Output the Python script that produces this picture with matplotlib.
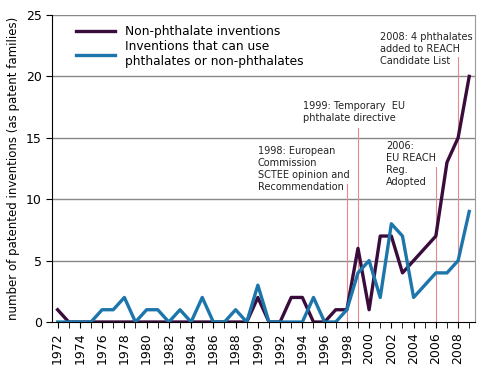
import matplotlib.pyplot as plt
import numpy as np

years = np.arange(1972, 2010)
non_phth = [1, 0, 0, 0, 0, 0, 0, 0, 0, 0, 0, 0, 0, 0, 0, 0, 0, 0, 2, 0,
            0, 2, 2, 0, 0, 1, 1, 6, 1, 7, 7, 4, 5, 6, 7, 13, 15, 20]
either = [0, 0, 0, 0, 1, 1, 2, 0, 1, 1, 0, 1, 0, 2, 0, 0, 1, 0, 3, 0,
          0, 0, 0, 2, 0, 0, 1, 4, 5, 2, 8, 7, 2, 3, 4, 4, 5, 9]

# events: year of line, top of line, text position, text
ev_years = [1998, 1999, 2006, 2008]
ev_tops = [11.2, 15.8, 12.6, 21.6]
ev_text_x = [1990.0, 1994.1, 2001.5, 2001.0]
ev_text_y = [14.3, 18.0, 14.7, 23.6]
ev_texts = ["1998: European\nCommission\nSCTEE opinion and\nRecommendation",
            "1999: Temporary  EU\nphthalate directive",
            "2006:\nEU REACH\nReg.\nAdopted",
            "2008: 4 phthalates\nadded to REACH\nCandidate List"]

purple = '#3a0c3c'
blue = '#1d76ab'

fig = plt.figure(figsize=(4.91, 3.74), dpi=100)
ax = fig.add_axes([0.106, 0.139, 0.861, 0.821])

for y in [5, 10, 15, 20, 25]:
    ax.axhline(y, color='#888888', lw=1.0, zorder=1)

for i in range(len(ev_years)):
    ax.plot([ev_years[i], ev_years[i]], [0, ev_tops[i]], color='#e58a90', lw=0.8, zorder=2)
    ax.text(ev_text_x[i], ev_text_y[i], ev_texts[i], fontsize=7, va='top', ha='left',
            color='#222222', linespacing=1.25)

ax.plot(years, non_phth, color=purple, lw=2.4, label='Non-phthalate inventions', zorder=3)
ax.plot(years, either, color=blue, lw=2.4,
        label='Inventions that can use\nphthalates or non-phthalates', zorder=4)

ax.set_xlim(1971.5, 2009.5)
ax.set_ylim(0, 25)
ax.set_yticks([0, 5, 10, 15, 20, 25])
ax.set_xticks(np.arange(1972, 2010, 2))
ax.set_xticks(np.arange(1972, 2010, 1), minor=True)
ax.tick_params(axis='x', rotation=90, labelsize=9, length=4, direction='out')
ax.tick_params(axis='x', which='minor', length=4)
ax.tick_params(axis='y', labelsize=9, length=4)
ax.set_ylabel('number of patented inventions (as patent families)', fontsize=8.5)

ax.spines['right'].set_color('#999999')
ax.spines['top'].set_visible(False)

ax.legend(loc='upper left', bbox_to_anchor=(0.04, 0.99), frameon=False, fontsize=8.8,
          handlelength=3.2, labelspacing=0.15, borderaxespad=0.2)

plt.savefig('out.png', dpi=100)
